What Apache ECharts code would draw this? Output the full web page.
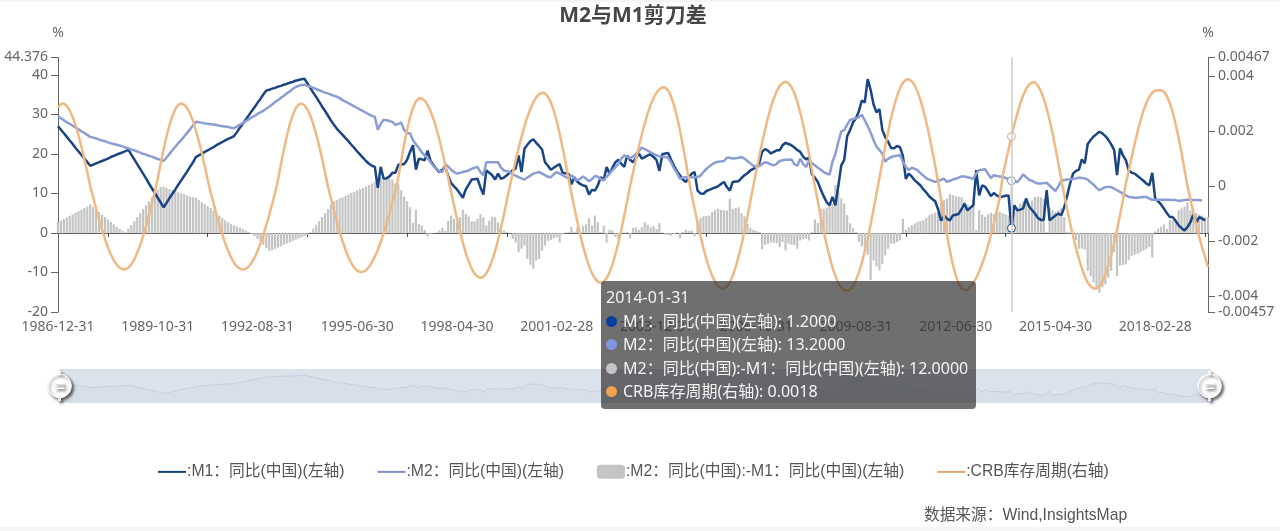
<!DOCTYPE html>
<html>
<head>
<meta charset="utf-8">
<title>M2与M1剪刀差</title>
<script src="https://cdn.jsdelivr.net/npm/echarts@6/dist/echarts.min.js"></script>
<style>
html,body{margin:0;padding:0;background:#fff;overflow:hidden;}
#chart{width:1280px;height:531px;}
.strip{position:absolute;left:0;width:1280px;background:#f4f5f5;}
</style>
</head>
<body>
<div id="chart"></div>
<div class="strip" style="top:0;height:2px"></div>
<div class="strip" style="top:527px;height:4px"></div>
<script>
var n = null;
var chartTitle = 'M2与M1剪刀差';
var sourceNote = '数据来源：Wind,InsightsMap';
var seriesNames = ['M1：同比(中国)(左轴)', 'M2：同比(中国)(左轴)', 'M2：同比(中国):-M1：同比(中国)(左轴)', 'CRB库存周期(右轴)'];
var rightTicks = [-0.00457, -0.004, -0.002, 0, 0.002, 0.004, 0.00467];

// 月度日期 1986-12-31 起
var months = [];
for (var i = 0; i < 393; i++) {
	var d = new Date(Date.UTC(1986, 12 + i, 0));
	months.push(d.toISOString().slice(0, 10));
}

var m1Values = [27,
	26.1,25.2,24.3,23.4,22.5,21.5,20.6,19.7,18.8,17.9,17,17.3,
	17.6,17.9,18.2,18.5,18.8,19.2,19.5,19.8,20.1,20.4,20.7,21,
	19.8,18.6,17.4,16.2,15,13.8,12.5,11.3,10.1,8.9,7.7,6.5,
	7.6,8.8,9.9,11,12.2,13.3,14.4,15.5,16.7,17.8,19.2,19.6,
	20,20.5,20.9,21.3,21.7,22.2,22.6,23,23.4,23.8,24.1,24.5,
	25.5,26.6,27.6,28.7,29.7,30.8,31.8,32.9,33.9,35,36,36.2,
	36.5,36.7,37,37.2,37.5,37.7,38,38.2,38.5,38.7,38.9,39,
	37.9,36.7,35.5,34.4,33.2,32,30.9,29.7,28.5,27.4,26.4,25.6,
	24.8,24,23.2,22.3,21.5,20.6,19.8,19,18.2,17.5,17,16.7,
	11.4,16.7,13.7,13.8,14.3,15.2,15.2,17.2,17.4,17.4,18.5,20.5,
	22.2,16,18.8,18.6,18.4,20.8,18.2,17.2,16.2,15.4,16,16.7,
	14.5,12.6,11.8,11,10,8.9,11,12.2,13.5,13.6,13.7,11.5,
	9.7,15.8,15.2,14.6,13.5,15,13.7,14,14.6,15.2,15.8,16.3,
	19.6,15.4,21.3,22.3,23.2,23.7,22.8,22,21.1,17.9,17,16,
	16.5,17,17.4,15.2,15.1,15,12.3,14.1,13,12.4,12,11.8,
	9.7,10.9,10.7,12,14.1,13.3,16.7,15,16.5,17.9,18.5,17.5,
	16.7,19.6,18.5,17.9,19,20.1,18.8,19.2,19.6,19.9,19.2,18.5,
	15.7,19.9,20.1,20.2,18.5,17,15.6,14.6,13.5,12.9,14,15,
	15.4,10.7,10,9.9,10.6,10.9,11.2,11.5,11.8,12.4,12.9,11.6,
	10.7,12.9,13,13.1,13.9,14.6,15.1,15.8,16.2,16.7,17.6,20.5,
	21.2,20.8,20.1,20.5,20.9,20.9,22.2,22.8,22.5,22.2,21.6,21,
	20.5,19.3,18.6,19.1,14.8,14,12.9,11,9.3,7.8,7,9.1,
	7,12,17.1,18.5,24.5,26,28,29,30.8,33.5,33,38.9,
	36.2,32.5,30.5,31.3,26,24.2,23,21.5,21.4,22,21.7,19.5,
	13.7,15,14.3,13.3,12.7,12,11,10.2,9.2,8.6,8,6,
	3.1,4.4,3.6,3.2,4.4,4.6,4.8,6,7.4,5.7,6.4,7,
	15.9,9.5,12,11.7,10.6,9.3,10.1,9.5,9.1,9.2,9.4,9.5,
	1.2,7,5.7,5.9,6.2,8.7,6.7,5.8,4.9,3.8,3.3,3.3,
	10.8,3.2,3.8,4.4,4.9,4.5,6.5,9.5,12.5,15,15.7,16,
	18.6,17.6,22.5,23.5,24.4,25,25.6,25.2,24.5,23.6,22.4,21,
	14.6,21.4,19.6,18.4,15.8,15.2,15,14.4,13.8,13.2,12.5,12,
	15.2,8.7,8,7.2,6.1,5,4,4,3,1.9,1.2,0.6,
	1.5,2.7,4.7,2.7,4,3.6,3.2,n];

var m2Values = [29.4,
	29,28.5,28,27.6,27.1,26.7,26.2,25.7,25.3,24.8,24.3,24.1,
	23.9,23.6,23.4,23.2,22.9,22.7,22.5,22.3,22.1,21.9,21.6,21.4,
	21.1,20.9,20.6,20.3,20,19.8,19.5,19.3,19,18.7,18.5,18.2,
	19.1,20,20.9,21.8,22.7,23.5,24.4,25.3,26.2,27.2,28.1,28,
	27.9,27.7,27.6,27.5,27.4,27.3,27.1,27,26.9,26.8,26.6,26.5,
	26.9,27.4,27.8,28.3,28.7,29.2,29.6,30.1,30.5,30.9,31.4,31.9,
	32.5,33.1,33.6,34.2,34.7,35.3,35.8,36.4,36.9,37.2,37.4,37.5,
	37.2,37,36.7,36.4,36.1,35.8,35.5,35.3,35,34.7,34.5,34.1,
	33.6,33.2,32.8,32.4,32,31.6,31.2,30.8,30.4,30,29.6,29.4,
	26.1,27.6,28.6,28.5,28.3,28.1,27.3,27.6,27.9,26,25.3,25.2,
	23.5,22.4,21.5,20.4,19.6,18.9,17.9,16.9,16.2,15.6,15.4,17.4,
	16.8,16,15.4,15,15.2,15.4,15.6,15.8,16.2,16.5,16.7,15.4,
	14.6,17.9,17.9,17.9,17.9,17.9,16.5,15.8,15.6,15.4,14.8,14.5,
	14.1,13.8,13.5,14,14.5,15,15.2,15.4,15,14.6,14.2,14.1,
	14.8,15.4,15,14.6,14.2,13.8,14.6,13.9,13.3,13.7,14.3,13.7,
	13.1,13.6,14.4,14.2,13.6,13.3,14.2,15,15.9,16.6,17.5,18.8,
	19.6,19.3,18.9,19.3,20,20.7,21.6,21.2,20.8,20.4,20,19.6,
	19.4,19.3,19.2,19,17.8,16.3,15.2,13.7,14,14.1,14.1,14.1,
	14.1,14.1,14.5,15.4,16.2,16.8,17.4,17.8,18,18.1,18.2,19,
	19,18.8,18.9,19,19.2,18.8,18.2,17.6,17,16.7,16.9,17.4,
	17.9,17.7,17.3,17.1,17.5,18.2,18.4,18.5,18.5,18.6,17.4,17,
	18.8,17.4,16.7,18.4,17.6,17.1,16.5,16,15.4,15,14.8,18,
	20,23,25.7,26,27.4,28.6,28.8,29,29.3,29.9,28.5,27,
	25.4,23.5,21.8,21,20,18,18.8,19.2,19.4,19.5,19.7,18,
	16.7,15.9,16.5,16.2,15.9,15.1,14.5,13.8,13.5,13.2,12.9,13.2,
	13.4,13.7,12.9,13.2,13.5,13.7,14,14.3,14.3,14.1,13.9,13.7,
	15,15.9,16,16.1,15,13.9,14.6,14.4,14.3,14.2,13.9,13.6,
	13.2,13,12.9,13.7,14.8,14.1,13.4,13.2,12.8,12.5,12.5,12.6,
	12.7,12,11.3,10.6,11.8,13.2,13.4,13.5,13.5,13.7,13.8,14,
	13.9,13.8,13.5,12.8,12.2,11.4,10.8,11.2,11.6,11.6,11.6,11.2,
	10.8,10.4,9.9,9.5,9.1,9,8.9,8.9,9,9.1,9.1,8.7,
	8.4,8.4,8.4,8.4,8.4,8.4,8.4,8.3,8.3,8.1,8.2,8.3,
	8.4,8.4,8.3,8.3,8.3,8.2,n,n];

var gapValues = [2.7,
	3.1,3.5,3.9,4.3,4.7,5.1,5.5,5.9,6.3,6.7,7.2,6.6,
	5.9,5.3,4.6,4,3.4,2.8,2.2,1.6,1,0.5,0.2,1.1,
	2,3,4,5,6,7,8,9,10,10.9,11.6,11.7,
	11.4,11.1,10.8,10.5,10.3,10,9.8,9.5,9.2,9,8.9,8.3,
	7.8,7.3,6.8,6.3,5.6,5,4.4,3.8,3.2,2.7,2.2,1.9,
	1.6,1.3,1,0.6,0.2,-0.3,-0.8,-1.5,-2.2,-3,-3.8,-4.5,
	-4.4,-4,-3.7,-3.4,-3,-2.7,-2.4,-2,-1.7,-1.4,-1.1,-0.8,
	-0.4,0.2,1.1,2,3,4,5,6,7.2,8,8.3,8.7,
	9,9.4,9.7,10.1,10.4,10.8,11.1,11.4,11.8,12.1,12.5,12.9,
	12,14,13.3,13.7,13.7,13.5,12.5,12.3,10.8,9.2,8,6.5,
	2.5,5.9,2.3,1.9,0.8,-0.9,-0.2,0,0.1,0.6,1.3,0.6,
	3.1,4.4,3.6,2.7,4,5.9,4.8,4.2,2.9,2.9,3.6,4.8,
	4,1.9,3.1,4,4,2.7,1.9,0.6,0.3,0,-1.5,-2.4,
	-4.9,-4,-3.2,-6.6,-8,-9,-7,-6.6,-4.5,-3.2,-2,-1.8,
	-1.4,-1.1,-2.4,-0.4,0.1,0.2,1.6,0.3,1.4,0.2,1.7,2.2,
	3.7,1.9,4.4,2.7,0.2,1.9,-2.4,0.8,0.6,-1,-1.5,0.2,
	0.1,0.3,-1.4,1.3,1.4,0.8,1.4,2.7,2.1,1.4,1.7,1,
	2.5,0.1,-0.4,-0.5,-0.7,-0.3,0.1,-1.3,0.2,0.8,0.5,0.6,
	-0.9,3.1,3.8,4.2,4.3,4.4,5.3,5.8,6.1,5.8,5.7,5.7,
	8.6,6.1,6.3,6.5,5,4.2,2.3,1.3,0.8,0.5,0.2,-4.1,
	-3,-2.8,-2.4,-2.5,-2.6,-3.6,-2.3,-4.4,-2.7,-3,-3.1,-4,
	-1.9,-1.6,-1.4,-1.9,0.2,3.4,2.5,6.2,6.1,6.4,7,7.4,
	12.1,10.5,8.7,7.5,4.5,2.4,1.2,0.2,-2.3,-3.4,-4.4,-5.5,
	-11.9,-7,-8.5,-9.5,-7.8,-5.7,-4,-2.7,-2.7,-2.3,-1.9,3.6,
	0.8,1.4,2,2.4,2.8,3,3.2,3.8,4.5,4.8,5.1,5.3,
	7.9,8.3,8.7,9.8,9.6,9.3,9.2,9,7.9,7.2,6.6,8.3,
	0.7,5.8,4.6,4.1,4.7,5.1,4.8,5.3,5.4,5,4.7,4.4,
	12,5.3,6.5,7.4,8,8.6,7.4,8.2,9.1,9.2,9,8.6,
	0.2,6.4,5.8,5.3,5.8,6.4,4,0.2,0.1,-0.5,-1.8,-4,
	-4,-4.2,-9.6,-11,-12.5,-13.8,-15.1,-13.8,-13,-11.3,-9.6,-4.9,
	-10.9,-8.3,-8.1,-7.9,-6.8,-5.8,-5.5,-5.3,-4.9,-4.5,-4,-3.6,
	-6.2,0.4,1,1.6,2.1,1,3.3,3.2,3.1,5.7,6.2,6.7,
	7.8,5.7,5.3,5,4.7,4.4,4,4];

var crbValues = [0.00286,
	0.00298,0.003,0.00291,0.00275,0.00251,0.00221,0.00184,0.00143,0.00097,0.0005,0,-0.00041,
	-0.00082,-0.00121,-0.00157,-0.00191,-0.00222,-0.00248,-0.00269,-0.00285,-0.00297,-0.00302,-0.00302,-0.00296,
	-0.00284,-0.00266,-0.00242,-0.00214,-0.00182,-0.00145,-0.00106,-0.00065,-0.00021,0.00028,0.00082,0.00134,
	0.00181,0.00221,0.00255,0.0028,0.00295,0.003,0.00296,0.00284,0.00264,0.00237,0.00203,0.00164,
	0.00121,0.00074,0.00025,-0.00021,-0.00061,-0.00102,-0.00139,-0.00175,-0.00207,-0.00235,-0.00259,-0.00278,
	-0.00292,-0.003,-0.00303,-0.003,-0.00292,-0.00278,-0.0026,-0.00236,-0.00208,-0.00177,-0.00142,-0.00105,
	-0.00065,-0.00024,0.00023,0.0008,0.00133,0.00182,0.00224,0.00258,0.00282,0.00296,0.003,0.00294,
	0.00279,0.00256,0.00226,0.00189,0.00147,0.00101,0.00051,0,-0.00043,-0.00085,-0.00126,-0.00165,
	-0.002,-0.00231,-0.00258,-0.0028,-0.00296,-0.00307,-0.00312,-0.00311,-0.00305,-0.00293,-0.00277,-0.00256,
	-0.00232,-0.00203,-0.00171,-0.00136,-0.00099,-0.00059,-0.0002,0.00032,0.00094,0.00153,0.00205,0.0025,
	0.00284,0.00308,0.00319,0.00318,0.0031,0.00295,0.00272,0.00243,0.00208,0.00169,0.00125,0.00078,
	0.00029,-0.0002,-0.0007,-0.00118,-0.00163,-0.00205,-0.00242,-0.00274,-0.003,-0.00318,-0.00329,-0.00333,
	-0.00329,-0.00317,-0.00297,-0.00269,-0.00235,-0.00196,-0.00151,-0.00103,-0.00052,0,0.00047,0.00093,
	0.00137,0.00179,0.00217,0.00251,0.0028,0.00304,0.00322,0.00334,0.00339,0.00337,0.00325,0.00304,
	0.00274,0.00236,0.00191,0.0014,0.00086,0.00029,-0.00026,-0.00078,-0.00128,-0.00176,-0.00219,-0.00257,
	-0.0029,-0.00316,-0.00335,-0.00347,-0.00351,-0.00347,-0.00334,-0.00313,-0.00284,-0.00248,-0.00206,-0.00159,
	-0.00108,-0.00055,0,0.00049,0.00097,0.00143,0.00187,0.00227,0.00263,0.00294,0.0032,0.00339,
	0.00352,0.00359,0.00358,0.00347,0.00325,0.00293,0.00252,0.00203,0.00148,0.00088,0.00025,-0.00031,
	-0.00083,-0.00133,-0.00181,-0.00225,-0.00264,-0.00298,-0.00326,-0.00348,-0.00363,-0.00372,-0.00372,-0.00365,
	-0.00349,-0.00325,-0.00294,-0.00256,-0.00212,-0.00163,-0.00111,-0.00056,0,0.00054,0.00107,0.00157,
	0.00205,0.00248,0.00287,0.00319,0.00345,0.00364,0.00375,0.00379,0.00374,0.0036,0.00338,0.00307,
	0.00268,0.00223,0.00172,0.00117,0.00059,0,-0.00056,-0.00111,-0.00164,-0.00213,-0.00257,-0.00295,
	-0.00327,-0.00352,-0.00369,-0.00378,-0.00379,-0.00376,-0.00363,-0.00342,-0.00314,-0.00278,-0.00237,-0.0019,
	-0.00139,-0.00085,-0.00028,0.0003,0.00088,0.00145,0.00199,0.00248,0.00291,0.00327,0.00355,0.00375,
	0.00386,0.00388,0.00381,0.00366,0.00343,0.00312,0.00274,0.00231,0.00182,0.0013,0.00074,0.00017,
	-0.00047,-0.00114,-0.00176,-0.00234,-0.00283,-0.00323,-0.00353,-0.00371,-0.00377,-0.00376,-0.00366,-0.00352,
	-0.00333,-0.0031,-0.00283,-0.00252,-0.00217,-0.00178,-0.00135,-0.0009,-0.00042,0.00035,0.00085,0.00133,
	0.0018,0.00224,0.00264,0.003,0.0033,0.00353,0.00369,0.00376,0.00377,0.00365,0.00346,0.00318,
	0.00283,0.0024,0.00192,0.00139,0.00082,0.00024,-0.00032,-0.00084,-0.00134,-0.00181,-0.00225,-0.00264,
	-0.00298,-0.00328,-0.0035,-0.00364,-0.00372,-0.00372,-0.00363,-0.00347,-0.00322,-0.0029,-0.00251,-0.00207,
	-0.00158,-0.00105,-0.00051,0.00009,0.00056,0.00106,0.00154,0.00199,0.00239,0.00274,0.00302,0.00324,
	0.00339,0.00347,0.00348,0.00348,0.00343,0.00327,0.00301,0.00267,0.00224,0.00174,0.00119,0.0006,
	0,-0.00048,-0.00095,-0.00141,-0.00184,-0.00222,-0.00258,-0.00293];

var lineColors = ['#173f78', '#7f8fc2', '#c4c4c4', '#dba877'];
var dotColors = ['#0b3ea3', '#7f96e0', '#c4c4c4', '#f2a052'];
var axisColor = '#666';
var textFont = '"Noto Sans","Noto Sans CJK SC",sans-serif';
var legendFont = '"Liberation Sans","Noto Sans CJK SC",sans-serif';
var lineIcon = 'path://M0,0H28V2H0Z';
var tipIndex = 325;

function makeLine(name, data, color, yIndex) {
	return {
		name: name,
		type: 'line',
		yAxisIndex: yIndex,
		data: data,
		showSymbol: false,
		symbol: 'circle',
		symbolSize: 8,
		lineStyle: {color: color, width: 2.5},
		itemStyle: {color: '#fff', borderColor: color, borderWidth: 1},
		emphasis: {scale: false, lineStyle: {width: 2.5}}
	};
}

var chart = echarts.init(document.getElementById('chart'));
chart.setOption({
	animation: false,
	textStyle: {fontFamily: textFont},
	title: {
		text: chartTitle,
		left: 628,
		top: 1,
		textAlign: 'center',
		textStyle: {fontSize: 21, fontWeight: 'bold', color: '#464646', fontFamily: textFont}
	},
	grid: {left: 58, right: 72, top: 57.5, bottom: 219},
	legend: {
		left: 158,
		top: 464,
		padding: 0,
		itemWidth: 28,
		itemHeight: 14,
		itemGap: 33,
		formatter: function(name){
			return ':' + name;
		},
		textStyle: {fontSize: 15.75, color: '#555', fontFamily: legendFont, padding: [0, 0, 0, -4]},
		data: [
			{name: seriesNames[0], icon: lineIcon, itemStyle: {color: lineColors[0], borderWidth: 0}},
			{name: seriesNames[1], icon: lineIcon, itemStyle: {color: lineColors[1], borderWidth: 0}},
			{name: seriesNames[2]},
			{name: seriesNames[3], icon: lineIcon, itemStyle: {color: lineColors[3], borderWidth: 0}}
		]
	},
	tooltip: {
		trigger: 'axis',
		alwaysShowContent: true,
		transitionDuration: 0,
		position: [601, 281],
		backgroundColor: 'rgba(50,50,50,0.7)',
		borderWidth: 0,
		padding: [5, 8, 5, 5],
		extraCssText: 'border-radius:4px;box-shadow:none;',
		textStyle: {color: '#f4f4f4', fontSize: 16, fontFamily: textFont},
		axisPointer: {type: 'line', lineStyle: {color: '#ccc', width: 1.5, type: 'solid'}},
		formatter: function(params){
			var html = '<div style="line-height:23.5px;white-space:nowrap">' + params[0].name;
			for (var k = 0; k < params.length; k++) {
				var p = params[k];
				html += '<br><span style="display:inline-block;width:11px;height:11px;border-radius:50%;margin-right:6px;background:' +
					dotColors[p.seriesIndex] + '"></span>' + p.seriesName + ': ' + Number(p.value).toFixed(4);
			}
			return html + '</div>';
		}
	},
	xAxis: {
		type: 'category',
		boundaryGap: false,
		data: months,
		axisLine: {onZero: true, lineStyle: {color: axisColor, width: 1}},
		axisTick: {
			length: 4,
			lineStyle: {color: '#444'},
			interval: function(index){
				return (index - 17) % 34 == 0;
			}
		},
		axisLabel: {interval: 33, margin: 8, color: axisColor, fontSize: 14, fontFamily: textFont},
		splitLine: {show: false}
	},
	yAxis: [{
		type: 'value',
		name: '%',
		nameGap: 17,
		nameTextStyle: {color: axisColor, fontSize: 14, fontFamily: textFont},
		min: -20,
		max: 44.376,
		interval: 10,
		axisLine: {show: true, lineStyle: {color: axisColor}},
		axisTick: {show: true, length: 7, lineStyle: {color: axisColor}},
		axisLabel: {margin: 10, color: axisColor, fontSize: 14, fontFamily: textFont},
		splitLine: {show: false}
	}, {
		type: 'value',
		name: '%',
		nameGap: 17,
		nameTextStyle: {color: axisColor, fontSize: 14, fontFamily: textFont},
		position: 'right',
		min: -0.00457,
		max: 0.00467,
		axisLine: {show: true, lineStyle: {color: axisColor}},
		axisTick: {show: true, length: 7, lineStyle: {color: axisColor}, customValues: rightTicks},
		axisLabel: {margin: 10, color: axisColor, fontSize: 14, fontFamily: textFont, customValues: rightTicks},
		splitLine: {show: false}
	}],
	dataZoom: [{
		type: 'slider',
		xAxisIndex: 0,
		start: 0,
		end: 100,
		left: 56,
		right: 72,
		top: 369,
		height: 34,
		showDetail: false,
		brushSelect: false,
		borderColor: 'transparent',
		backgroundColor: 'rgba(47,69,84,0)',
		fillerColor: 'rgba(167,183,204,0.4)',
		moveHandleSize: 0,
		handleIcon: 'path://M10,5.5A9.5,9.5 0 1 1 9.99,5.5Z M6.5,13V14H13.5V13Z M6.5,16V17H13.5V16Z M9.4,3H10.6V6H9.4Z M9.4,24H10.6V27H9.4Z',
		handleSize: '88%',
		handleStyle: {color: '#fff', borderColor: '#fff', shadowBlur: 3, shadowColor: 'rgba(0,0,0,0.6)', shadowOffsetX: 2, shadowOffsetY: 2},
		dataBackground: {
			lineStyle: {color: '#2f4554', width: 0.5, opacity: 0.3},
			areaStyle: {color: 'rgba(47,69,84,0.12)'}
		},
		selectedDataBackground: {
			lineStyle: {color: '#2f4554', width: 0.5, opacity: 0.3},
			areaStyle: {color: 'rgba(47,69,84,0.12)'}
		}
	}],
	graphic: [{
		type: 'text',
		left: 924,
		top: 508,
		style: {text: sourceNote, fontSize: 15.7, fill: '#555', fontFamily: legendFont}
	}],
	series: [
		makeLine(seriesNames[0], m1Values, lineColors[0], 0),
		makeLine(seriesNames[1], m2Values, lineColors[1], 0),
		{
			name: seriesNames[2],
			type: 'bar',
			yAxisIndex: 0,
			data: gapValues,
			barWidth: 2.2,
			itemStyle: {color: lineColors[2]}
		},
		makeLine(seriesNames[3], crbValues, lineColors[3], 1)
	]
});
chart.dispatchAction({type: 'showTip', seriesIndex: 0, dataIndex: tipIndex});
</script>
</body>
</html>
